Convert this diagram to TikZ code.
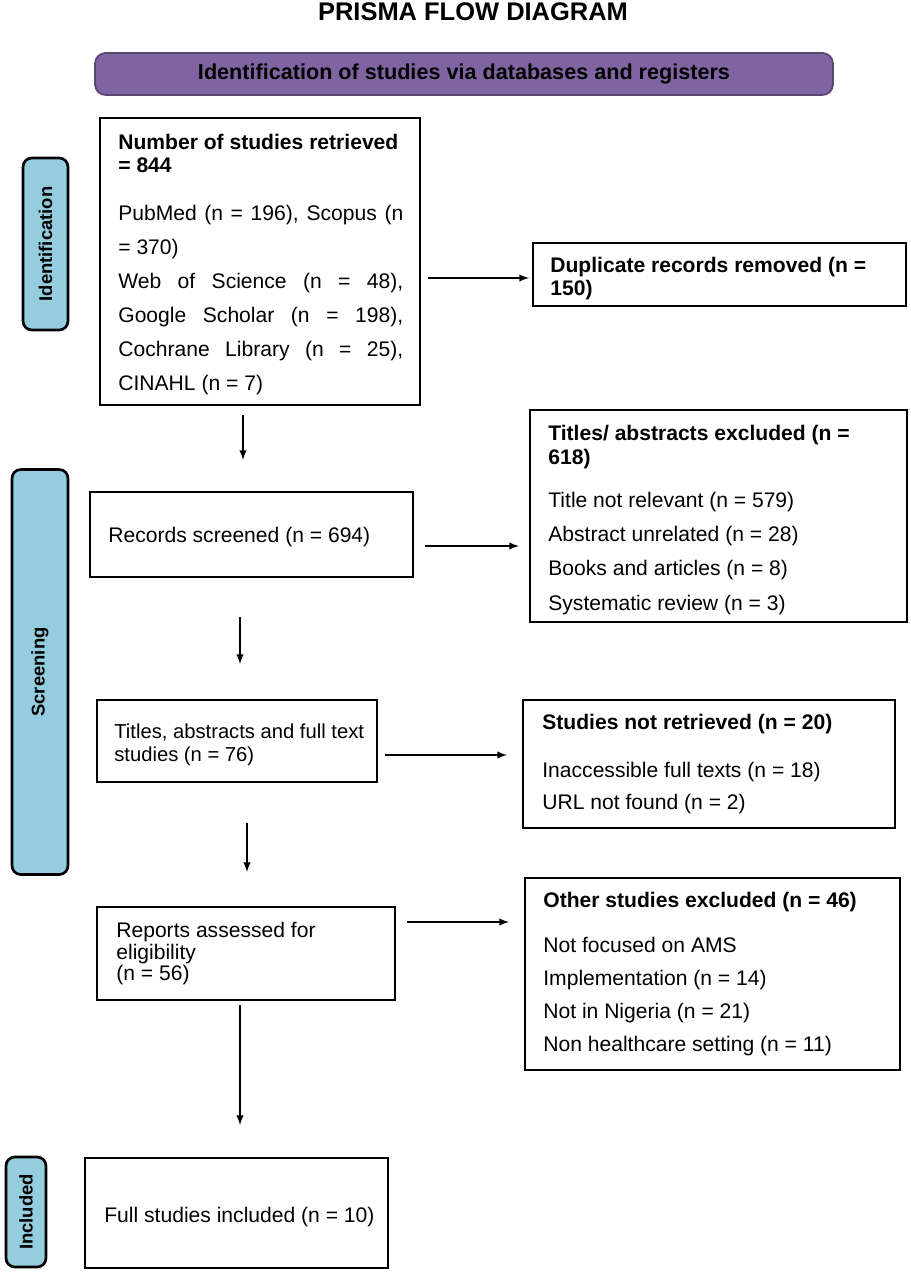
\documentclass[tikz,border=0pt]{standalone}
\usepackage{fontspec}
\setmainfont{Liberation Sans}
\begin{document}
\begin{tikzpicture}[x=0.02cm,y=-0.02cm,
 box/.style={draw=black,line width=1.5pt,fill=white,inner sep=0pt},
 txt/.style={anchor=north west,align=left,inner sep=0pt},
 side/.style={draw=black,line width=1.5pt,fill=side,rounded corners=5pt,inner sep=0pt},
 stxt/.style={rotate=90,font=\fontsize{10.5}{12}\selectfont\bfseries},
 arr/.style={-latex,line width=0.9pt}]
\definecolor{side}{HTML}{94CDDD}
\definecolor{purp}{HTML}{8064A2}
\useasboundingbox (0,0) rectangle (911,1280);
\node[font=\fontsize{14.5}{16}\selectfont\bfseries] (title) at (473,12) {PRISMA FLOW DIAGRAM};
\node[draw=purp!70!black,line width=1pt,fill=purp,rounded corners=6pt,minimum width=14.76cm,minimum height=0.84cm,font=\fontsize{12.3}{14}\selectfont\bfseries] (idb) at (464,74) {Identification of studies via databases and registers};
% sidebars
\node[side,minimum width=0.9cm,minimum height=3.44cm] (s1) at (45.5,244) {};
\node[stxt] at (s1) {Identification};
\node[side,minimum width=1.12cm,minimum height=8.1cm] (s2) at (40,672) {};
\node[stxt] at (s2) {Screening};
\node[side,minimum width=0.8cm,minimum height=2.2cm] (s3) at (26,1212) {};
\node[stxt] at (s3) {Included};
% boxes
\node[box,minimum width=6.4cm,minimum height=5.74cm] (b1) at (260,261.5) {};
\node[txt,font=\fontsize{12}{19.3}\selectfont] (b1t) at (118,134) {\textbf{Number of studies retrieved}\\[-6pt]\textbf{= 844}\\[8pt]
\makebox[5.7cm][s]{PubMed (n = 196), Scopus (n}\\= 370)\\\makebox[5.7cm][s]{Web of Science (n = 48),}\\\makebox[5.7cm][s]{Google Scholar (n = 198),}\\\makebox[5.7cm][s]{Cochrane Library (n = 25),}\\CINAHL (n = 7)};
\node[box,minimum width=7.46cm,minimum height=1.26cm] (dup) at (719.5,274.5) {};
\node[txt,font=\fontsize{12}{13}\selectfont\bfseries] (dupt) at (550,257) {Duplicate records removed (n =\\150)};
\node[box,minimum width=6.46cm,minimum height=1.7cm] (rs) at (251.5,534.5) {};
\node[txt,font=\fontsize{12}{14}\selectfont] (rst) at (108,527) {Records screened (n = 694)};
\node[box,minimum width=7.54cm,minimum height=4.24cm] (ex1) at (718.5,516) {};
\node[txt,font=\fontsize{12}{19.5}\selectfont] (ex1t) at (548,425) {\textbf{Titles/ abstracts excluded (n =}\\[-6pt]\textbf{618)}\\[5pt]Title not relevant (n = 579)\\Abstract unrelated (n = 28)\\Books and articles (n = 8)\\Systematic review (n = 3)};
\node[box,minimum width=5.6cm,minimum height=1.64cm] (ta) at (237,741) {};
\node[txt,font=\fontsize{11.5}{13.6}\selectfont] (tat) at (114,723) {Titles, abstracts and full text\\studies (n = 76)};
\node[box,minimum width=7.44cm,minimum height=2.56cm] (nr) at (709,764) {};
\node[txt,font=\fontsize{12}{18.2}\selectfont] (nrt) at (542,714) {\textbf{Studies not retrieved (n = 20)}\\[9pt]Inaccessible full texts (n = 18)\\URL not found (n = 2)};
\node[box,minimum width=5.96cm,minimum height=1.86cm] (ra) at (246,953.5) {};
\node[txt,font=\fontsize{12}{11}\selectfont] (rat) at (116,922) {Reports assessed for\\eligibility\\(n = 56)};
\node[box,minimum width=7.5cm,minimum height=3.84cm] (oe) at (712.5,974) {};
\node[txt,font=\fontsize{12}{18.7}\selectfont] (oet) at (543,892) {\textbf{Other studies excluded (n = 46)}\\[6.8pt]Not focused on AMS\\Implementation (n = 14)\\Not in Nigeria (n = 21)\\Non healthcare setting (n = 11)};
\node[box,minimum width=6.06cm,minimum height=2.2cm] (fs) at (236.5,1213) {};
\node[txt,font=\fontsize{12}{14}\selectfont] (fst) at (104,1207) {Full studies included (n = 10)};
% arrows
\coordinate (a1s) at (428,278); \coordinate (a1e) at (529,278);
\draw[arr] (a1s) -- (a1e);
\coordinate (d1s) at (243,415); \coordinate (d1e) at (243,460);
\draw[arr] (d1s) -- (d1e);
\coordinate (a2s) at (425,546); \coordinate (a2e) at (519,546);
\draw[arr] (a2s) -- (a2e);
\coordinate (d2s) at (240,617); \coordinate (d2e) at (240,664);
\draw[arr] (d2s) -- (d2e);
\coordinate (a3s) at (385,755); \coordinate (a3e) at (507,755);
\draw[arr] (a3s) -- (a3e);
\coordinate (d3s) at (247,823); \coordinate (d3e) at (247,872);
\draw[arr] (d3s) -- (d3e);
\coordinate (a4s) at (407,922); \coordinate (a4e) at (509,922);
\draw[arr] (a4s) -- (a4e);
\coordinate (d4s) at (240,1005); \coordinate (d4e) at (240,1125);
\draw[arr] (d4s) -- (d4e);
\end{tikzpicture}
\end{document}
